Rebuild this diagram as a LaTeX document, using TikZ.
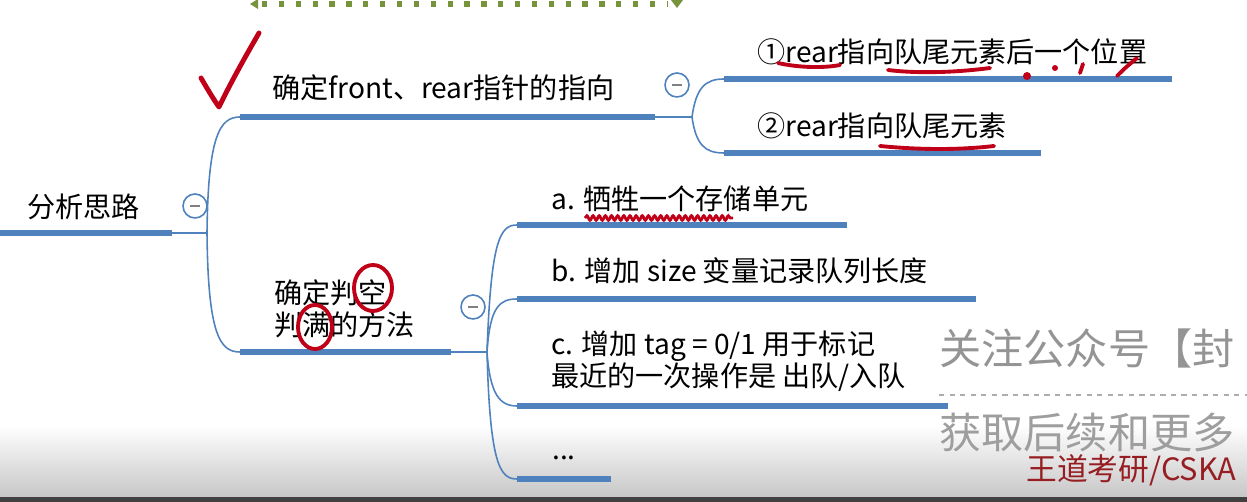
\documentclass[tikz,border=0pt]{standalone}
\usepackage{fontspec}
\setmainfont{Noto Sans CJK SC}
\usepackage{xcolor}
\usetikzlibrary{decorations.pathmorphing}
\definecolor{MapBlue}{RGB}{79,129,189}
\definecolor{InkRed}{RGB}{192,0,24}
\definecolor{LeafGreen}{RGB}{119,147,60}
\definecolor{BrandRed}{RGB}{150,30,35}

\begin{document}
\begin{tikzpicture}[x=0.02cm, y=-0.02cm,
		bar/.style={MapBlue, line width=3.9pt},
		link/.style={MapBlue, line width=0.9pt},
		fold/.style={circle, draw=MapBlue, line width=0.9pt, fill=white, inner sep=0pt, minimum size=0.48cm,
			path picture={\draw[gray, line width=1pt] ([xshift=-2.6pt]path picture bounding box.center) -- ([xshift=2.6pt]path picture bounding box.center);}},
		topic/.style={anchor=west, inner sep=0pt, align=left, font=\fontsize{16}{18.5}\selectfont},
		ink/.style={InkRed, line width=2.2pt, line cap=round, line join=round},
		wm/.style={anchor=west, inner sep=0pt}]
		\useasboundingbox (0,0) rectangle (1247,502);
		\shade[top color=white, bottom color=black!22] (0,425) rectangle (1247,497);
		\fill[black!75] (0,497) rectangle (1247,502);
		% dotted green edge at the top
		\draw[LeafGreen, line width=3.2pt, dash pattern=on 3pt off 6.6pt] (262,4) -- (668,4);
		\fill[LeafGreen] (250,4) -- (258,-1) -- (258,9) -- cycle;
		\fill[LeafGreen] (671,0) -- (683,0) -- (677,8) -- cycle;

		% root
		\draw[bar] (0,233) coordinate (r0) -- (172,233) coordinate (r1);
		\node[topic] (root) at (27,207) {分析思路};
		\node[fold] (fr) at (195,206) {};
		\draw[link] (r1) -- (207,233) coordinate (rj);

		% first level
		\draw[bar] (240,117) coordinate (t1a) -- (655,117) coordinate (t1b);
		\node[topic] (t1) at (272,88) {确定front、rear指针的指向};
		\node[fold] (f1) at (677,85) {};
		\draw[bar] (240,352) coordinate (t2a) -- (451,352) coordinate (t2b);
		\node[topic] (t2) at (274,309) {确定判空\\判满的方法};
		\node[fold] (f2) at (473,307) {};
		\draw[link] (rj) .. controls (208,135) and (220,117) .. (t1a);
		\draw[link] (rj) .. controls (208,335) and (220,352) .. (t2a);

		% pointer choices
		\draw[link] (t1b) -- (692,117) coordinate (t1j);
		\draw[bar] (724,79) coordinate (s1a) -- (1172,79);
		\node[topic] (s1) at (757,52) {①rear指向队尾元素后一个位置};
		\draw[bar] (724,153) coordinate (s2a) -- (1041,153);
		\node[topic] (s2) at (757,126) {②rear指向队尾元素};
		\draw[link] (t1j) .. controls (696,88) and (705,79) .. (s1a);
		\draw[link] (t1j) .. controls (696,145) and (705,153) .. (s2a);

		% empty / full tests
		\draw[link] (t2b) -- (487,352) coordinate (t2j);
		\draw[bar] (517,225) coordinate (ma) -- (847,225);
		\node[topic] (m1) at (551,199) {a. 牺牲一个存储单元};
		\draw[bar] (517,299) coordinate (mb) -- (976,299);
		\node[topic] (m2) at (551,271) {b. 增加 size 变量记录队列长度};
		\draw[bar] (517,406) coordinate (mc) -- (948,406);
		\node[topic] (m3) at (551,361) {c. 增加 tag = 0/1 用于标记\\最近的一次操作是 出队/入队};
		\draw[bar] (517,479) coordinate (md) -- (611,479);
		\node[topic, anchor=base west] (m4) at (552,460) {...};
		\draw[link] (t2j) .. controls (491,240) and (500,225) .. (ma);
		\draw[link] (t2j) .. controls (490,306) and (500,299) .. (mb);
		\draw[link] (t2j) .. controls (490,395) and (500,406) .. (mc);
		\draw[link] (t2j) .. controls (490,465) and (500,479) .. (md);

		% red pen marks
		\draw[ink, line width=2.8pt] (201,78) .. controls (208,90) and (214,100) .. (219,107) .. controls (232,80) and (248,52) .. (259,33);
		\draw[ink, line width=2.2pt] (373,288) ellipse [x radius=19, y radius=23];
		\draw[ink, line width=2.2pt] (315,327) ellipse [x radius=17, y radius=22];
		\draw[ink] (778,63) .. controls (800,68) and (825,68) .. (840,65);
		\draw[ink] (888,70) .. controls (920,74) and (960,72) .. (990,68);
		\fill[InkRed] (1027,76) circle (4);
		\fill[InkRed] (1055,68) circle (3);
		\draw[ink] (1080,73) -- (1083,64);
		\draw[ink] (1117,76) .. controls (1125,68) .. (1137,58);
		\draw[ink] (880,146) .. controls (920,150) and (960,150) .. (994,146);
		\draw[InkRed, line width=1.6pt, decorate, decoration={snake, amplitude=1.3pt, segment length=3.5pt}] (585,218) -- (733,218);

		% watermark
		\node[wm, font=\fontsize{24}{24}\selectfont, text=black!42] (wm1) at (939,348) {关注公众号【封};
		\draw[black!32, dashed, line width=0.8pt] (939,395) -- (1247,395);
		\node[wm, font=\fontsize{24}{24}\selectfont, text=black!38] (wm2) at (939,432) {获取后续和更多};
		\node[wm, font=\fontsize{17.5}{17.5}\selectfont, text=BrandRed] (wm3) at (1026,470) {王道考研/CSKA};
	\end{tikzpicture}
\end{document}
